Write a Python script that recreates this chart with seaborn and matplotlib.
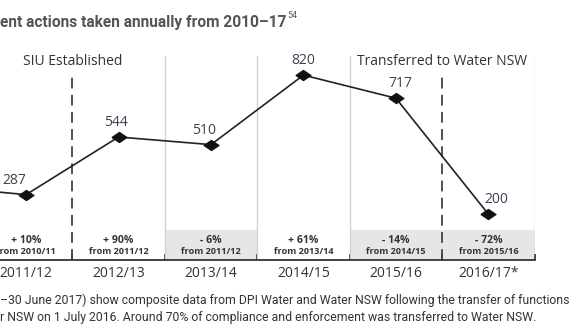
import matplotlib
matplotlib.use("Agg")
import matplotlib.pyplot as plt
import seaborn as sns
import pandas as pd

years = ["2010/11", "2011/12", "2012/13", "2013/14", "2014/15", "2015/16", "2016/17*"]
actions = [325, 287, 544, 510, 820, 717, 200]
changes = [None, "+ 10%", "+ 90%", "- 6%", "+ 61%", "- 14%", "- 72%"]
change_from = [None, "from 2010/11", "from 2011/12", "from 2011/12", "from 2013/14", "from 2014/15", "from 2015/16"]
events = [("SIU Established", 1.5), ("Transferred to Water NSW", 5.5)]
title = "ent actions taken annually from 2010\u201317"
footnote = ["\u201330 June 2017) show composite data from DPI Water and Water NSW following the transfer of functions",
            "r NSW on 1 July 2016. Around 70% of compliance and enforcement was transferred to Water NSW."]
label_dx = [0, -0.13, -0.03, -0.08, 0, 0.05, 0.09]

sns.set_theme(style="white")
plt.rcParams["font.family"] = ["Open Sans", "DejaVu Sans"]

df = pd.DataFrame({"year": years, "actions": actions})

W, H = 584, 329
fig = plt.figure(figsize=(W / 100, H / 100), dpi=100)
ax_left, ax_right, ax_top, ax_bot = -112.6, 534.6, 50, 260
ax = fig.add_axes([ax_left / W, 1 - ax_bot / H, (ax_right - ax_left) / W, (ax_bot - ax_top) / H])

ymin, ymax = -4.5, 932
band_top = 129
ax.set_xlim(-0.5, len(years) - 0.5)
ax.set_ylim(ymin, ymax)

for i, c in enumerate(changes):
    if c is not None and c.startswith("-"):
        ax.fill_between([i - 0.5, i + 0.5], ymin, band_top, color="#e6e6e6", lw=0, zorder=0)

for b in [2.5, 3.5, 4.5, 6.5]:
    ax.plot([b, b], [ymin, 905], color="#d2d2d2", lw=1.0, zorder=1)

for label, xpos in events:
    ax.plot([xpos, xpos], [ymin, 821], color="#444444", lw=1.3, dashes=(6, 3.5), zorder=2)
    ax.text(xpos, 880, label, ha="center", va="center", fontsize=10, color="#333333")

diamond = [(-1, 0), (0, 0.68), (1, 0), (0, -0.68), (-1, 0)]
sns.lineplot(data=df, x="year", y="actions", ax=ax, color="#222222", lw=1.2,
             marker=diamond, markersize=11, markeredgecolor="#111111", markerfacecolor="#111111",
             sort=False, zorder=3)

for i, v in enumerate(actions):
    if i == 0:
        continue
    ax.text(i + label_dx[i], v + 65, str(v), ha="center", va="center", fontsize=10, color="#3a4150")

for i, (c, f) in enumerate(zip(changes, change_from)):
    if c is None:
        continue
    ax.text(i, 82, c, ha="center", va="center", fontsize=7.6, fontweight="bold", color="#333333")
    ax.text(i, 32, f, ha="center", va="center", fontsize=6.6, fontweight="bold", color="#333333")

for s in ["top", "left", "right"]:
    ax.spines[s].set_visible(False)
ax.spines["bottom"].set_color("#333333")
ax.spines["bottom"].set_linewidth(1.3)
ax.set_yticks([])
ax.set_xticks([i + 0.5 for i in range(-1, len(years))])
ax.set_xticklabels([])
ax.tick_params(axis="x", which="major", direction="in", length=4, width=1.3, color="#333333", bottom=True)
ax.set_xticks(range(len(years)), minor=True)
ax.set_xticklabels(years, minor=True, fontsize=10, color="#333333")
ax.tick_params(axis="x", which="minor", length=0, pad=4)
ax.set_xlabel("")
ax.set_ylabel("")

renderer = fig.canvas.get_renderer()


def fit(t, target_px):
    w = t.get_window_extent(renderer).width
    t.set_fontsize(t.get_fontsize() * target_px / w)


tt = fig.text(0 / W, 1 - 22 / H, title, ha="left", va="center", fontsize=12.5, fontweight="bold",
              color="#555555", family=["Roboto", "DejaVu Sans"])
fit(tt, 289)
ext = tt.get_window_extent(renderer)
fig.text((ext.x1 + 1) / W, 1 - 15 / H, "54", ha="left", va="center", fontsize=6.5, color="#555555",
         family=["Roboto", "DejaVu Sans"])

f1 = fig.text(0, 1 - 300 / H, footnote[0], ha="left", va="center", fontsize=9.3, color="#333333",
              family=["Roboto", "DejaVu Sans"])
fit(f1, 570)
fig.text(0, 1 - 317 / H, footnote[1], ha="left", va="center", fontsize=f1.get_fontsize(), color="#333333",
         family=["Roboto", "DejaVu Sans"])

fig.savefig("out.png", dpi=100, facecolor="white")
